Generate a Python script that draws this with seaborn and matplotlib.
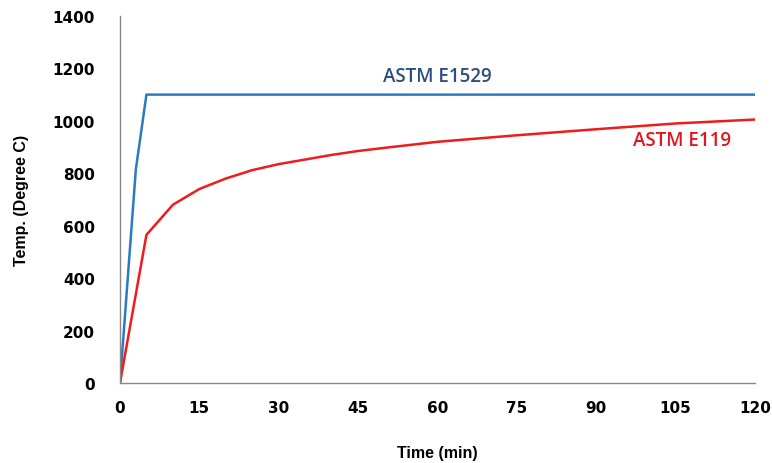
import numpy as np
import pandas as pd
import matplotlib
matplotlib.use("Agg")
import matplotlib.pyplot as plt
import seaborn as sns

# ── data ──────────────────────────────────────────────────────────────
e1529_time = [0, 3, 5, 120]
e1529_temp = [0, 815, 1100, 1100]

e119_time = [0, 5, 10, 15, 20, 25, 30, 40, 45, 50, 60, 75, 90, 105, 120]
e119_temp = [0, 565, 680, 740, 780, 812, 835, 870, 885, 897, 920, 945, 968, 990, 1005]

x_ticks = [0, 15, 30, 45, 60, 75, 90, 105, 120]
y_ticks = [0, 200, 400, 600, 800, 1000, 1200, 1400]

df = pd.concat([
    pd.DataFrame({"time": e1529_time, "temp": e1529_temp, "curve": "ASTM E1529"}),
    pd.DataFrame({"time": e119_time, "temp": e119_temp, "curve": "ASTM E119"}),
])

sns.set_style("white")
plt.rcParams['font.family'] = ['Liberation Sans', 'DejaVu Sans']

fig = plt.figure(figsize=(7.72, 4.64), dpi=100)
ax = fig.add_axes([0.1554, 0.1724, 0.8226, 0.791])

palette = {"ASTM E1529": "#2a7bc1", "ASTM E119": "#ee1c1c"}
sns.lineplot(data=df, x="time", y="temp", hue="curve", palette=palette,
             linewidth=1.8, legend=False, ax=ax, sort=False)

ax.set_xlim(0, 120)
ax.set_ylim(0, 1400)
ax.set_xticks(x_ticks)
ax.set_yticks(y_ticks)
ax.tick_params(axis='x', direction='in', length=5, color='#888888', width=1, pad=12,
               labelcolor='black')
ax.tick_params(axis='y', direction='out', length=5, color='#888888', width=1, pad=13,
               labelcolor='black')
for lab in ax.get_xticklabels() + ax.get_yticklabels():
    lab.set_fontweight('bold')
    lab.set_family(['DejaVu Sans'])
    lab.set_fontsize(11)

for side in ['top', 'right']:
    ax.spines[side].set_visible(False)
for side in ['left', 'bottom']:
    ax.spines[side].set_color('#888888')
    ax.spines[side].set_linewidth(1)

ax.set_xlabel("Time (min)", fontsize=11.5, fontweight='bold', labelpad=22, color='black')
ax.set_ylabel("Temp. (Degree C)", fontsize=11.5, fontweight='bold', labelpad=17, color='black')

ax.text(59.9, 1172, "ASTM E1529", color="#2c4f7c", fontsize=13.5,
        fontweight='semibold', family=['Open Sans', 'DejaVu Sans'],
        ha='center', va='center')
ax.text(106.2, 927, "ASTM E119", color="#e3161d", fontsize=13.5,
        fontweight='semibold', family=['Open Sans', 'DejaVu Sans'],
        ha='center', va='center')

fig.savefig("out.png", dpi=100)
